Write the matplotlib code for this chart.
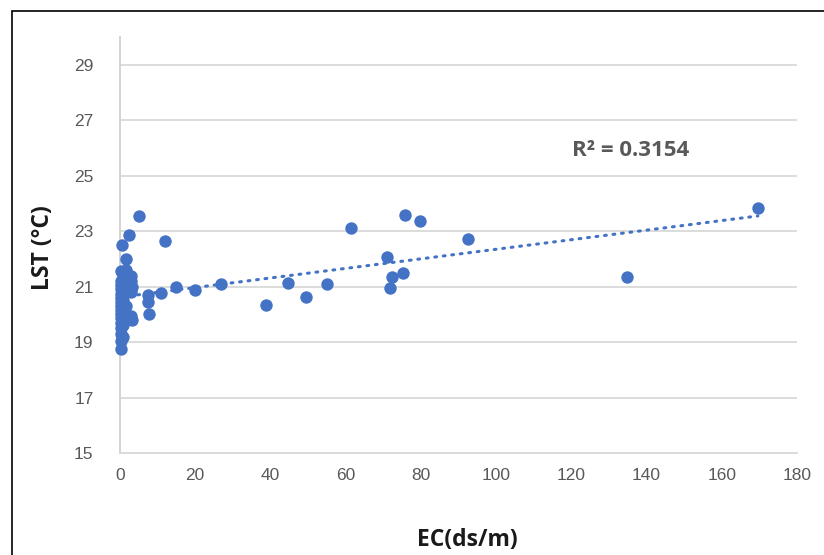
import numpy as np
import matplotlib.pyplot as plt
from matplotlib.patches import Rectangle

# EC (ds/m) and land surface temperature (deg C) for each sample
ec = np.array([
    0.2, 0.2, 0.2, 0.2, 0.2, 0.2, 0.2, 0.2, 0.2, 0.2, 0.2, 0.2, 0.2, 0.2, 0.2, 0.2,
    0.8, 0.8, 0.8, 0.8, 0.8, 0.8,
    1.5, 1.5, 1.5, 1.5, 1.5,
    3.0, 3.0, 3.1, 2.9, 2.9, 3.3,
    0.5, 1.7, 2.3, 5.0, 12.0,
    7.4, 7.5, 7.8, 10.9, 14.9, 20.0, 26.8, 38.7, 44.7, 49.5, 55.0, 61.4,
    71.0, 71.8, 72.3, 75.2, 75.8, 79.8, 92.5, 134.8, 169.6,
])
lst = np.array([
    18.75, 19.05, 19.3, 19.5, 19.7, 19.85, 20.0, 20.15, 20.3, 20.45, 20.6, 20.75, 20.9, 21.05, 21.2, 21.55,
    19.2, 19.6, 20.05, 20.5, 20.95, 21.35,
    19.9, 20.3, 20.8, 21.1, 21.6,
    21.39, 21.2, 21.0, 20.8, 19.95, 19.81,
    22.5, 22.0, 22.86, 23.55, 22.66,
    20.71, 20.46, 20.0, 20.78, 21.0, 20.89, 21.1, 20.35, 21.12, 20.62, 21.1, 23.1,
    22.07, 20.95, 21.33, 21.48, 23.58, 23.38, 22.7, 21.35, 23.85,
])
r2_text = "R² = 0.3154"

tick_font = "Liberation Sans"
label_font = "Open Sans"

blue = "#4472C4"
grey = "#595959"

fig = plt.figure(figsize=(8.24, 5.55), dpi=100)
ax = fig.add_axes([120 / 824, 1 - 453 / 555, 677 / 824, 416 / 555])

ax.scatter(ec, lst, s=80, color=blue, zorder=3, linewidths=0, clip_on=False)

# linear trendline
slope, intercept = np.polyfit(ec, lst, 1)
xs = np.array([ec.min(), ec.max()])
ax.plot(xs, slope * xs + intercept, color=blue, lw=2.2,
        linestyle=(0, (0.6, 2.2)), dash_capstyle="round", zorder=2)

ax.set_xlim(0, 180)
ax.set_ylim(15, 30)
ax.set_xticks(np.arange(0, 181, 20))
ax.set_yticks(np.arange(15, 30, 2))
ax.grid(axis="y", color="#D9D9D9", lw=1.3)
ax.set_axisbelow(True)
for side in ("top", "right"):
    ax.spines[side].set_visible(False)
ax.spines["left"].set_color("#D0D0D0")
ax.spines["bottom"].set_color("#D9D9D9")
ax.spines["left"].set_linewidth(1.3)
ax.spines["bottom"].set_linewidth(1.3)
ax.tick_params(length=0, labelsize=12.5, labelcolor=grey)
ax.tick_params(axis="y", pad=19)
ax.tick_params(axis="x", pad=11)
for lab in ax.get_xticklabels() + ax.get_yticklabels():
    lab.set_fontfamily(tick_font)

fig.text(467 / 824, 1 - 540 / 555, "EC(ds/m)", ha="center", va="center",
         fontsize=16.5, fontweight="bold", family=label_font, color="#1a1a1a")
fig.text(43 / 824, 1 - 248 / 555, "LST (°C)", ha="center", va="center",
         rotation=90, fontsize=16.5, fontweight="bold", family=label_font, color="#1a1a1a")
ax.text(631 / 824, 1 - 151 / 555, r2_text, transform=fig.transFigure,
        ha="center", va="center", fontsize=16, fontweight="bold",
        family=label_font, color=grey)

# chart border
fig.patches.append(Rectangle((12 / 824, -0.05), 1.1, 1.05 - 11 / 555,
                             transform=fig.transFigure, fill=False,
                             edgecolor="black", lw=1.2))

fig.savefig("out.png", dpi=100)
